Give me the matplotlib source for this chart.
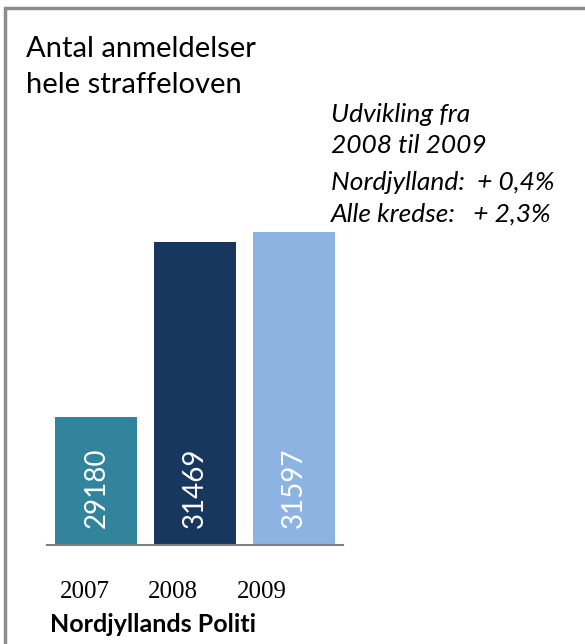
import matplotlib
matplotlib.use("Agg")
import matplotlib.pyplot as plt
from matplotlib.patches import Rectangle

# data
years = ["2007", "2008", "2009"]
counts = [29180, 31469, 31597]
colors = ["#31849B", "#17375E", "#8DB3E2"]

W, H = 585, 644
fig = plt.figure(figsize=(W / 100, H / 100), dpi=100)

def fx(px):
    return px / W

def fy(py):
    return 1 - py / H

# axes placed in pixel terms of the reference
ax = fig.add_axes([fx(47), fy(545), fx(343) - fx(47), fy(201) - fy(545)])
x = range(len(years))
ax.bar(x, counts, width=0.83, color=colors, bottom=0)
ax.set_xlim(-0.5, 2.5)
ax.set_ylim(27500, 32000)

for s in ["top", "right", "left"]:
    ax.spines[s].set_visible(False)
ax.spines["bottom"].set_color("#808080")
ax.spines["bottom"].set_linewidth(1.5)
ax.set_yticks([])

# year labels sit a bit left of the bars in the original
ax.set_xticks([i - 0.12 - 0.1 * i for i in x])
ax.set_xticklabels(years, family=["Liberation Serif", "DejaVu Serif"], fontsize=18)
ax.tick_params(axis="x", length=0, pad=26)

# value labels inside the bars
for i, v in enumerate(counts):
    ax.annotate(str(v), xy=(i, 0), xycoords=("data", "axes fraction"),
                xytext=(0, 12), textcoords="offset points", rotation=90,
                ha="center", va="bottom", color="white", fontsize=20,
                family=["Lato", "DejaVu Sans"])

sans = ["Lato", "DejaVu Sans"]
fig.text(fx(26), fy(57), "Antal anmeldelser", fontsize=21, family=sans, va="baseline")
fig.text(fx(26), fy(93), "hele straffeloven", fontsize=21, family=sans, va="baseline")

notes = ["Udvikling fra", "2008 til 2009", "Nordjylland:  + 0,4%", "Alle kredse:   + 2,3%"]
note_y = [122, 153, 190, 222]
for t, yy in zip(notes, note_y):
    fig.text(fx(331), fy(yy), t, fontsize=19, style="italic", family=sans, va="baseline")

fig.text(fx(50), fy(632), "Nordjyllands Politi", fontsize=18, weight="bold",
         family=sans, va="baseline")

# grey frame, right and bottom edges fall outside the picture
fig.patches.append(Rectangle((fx(5), -0.1), 1.2, fy(8) + 0.1, fill=False,
                             edgecolor="#8c8c8c", linewidth=2.5,
                             transform=fig.transFigure))

fig.savefig("out.png", dpi=100)
